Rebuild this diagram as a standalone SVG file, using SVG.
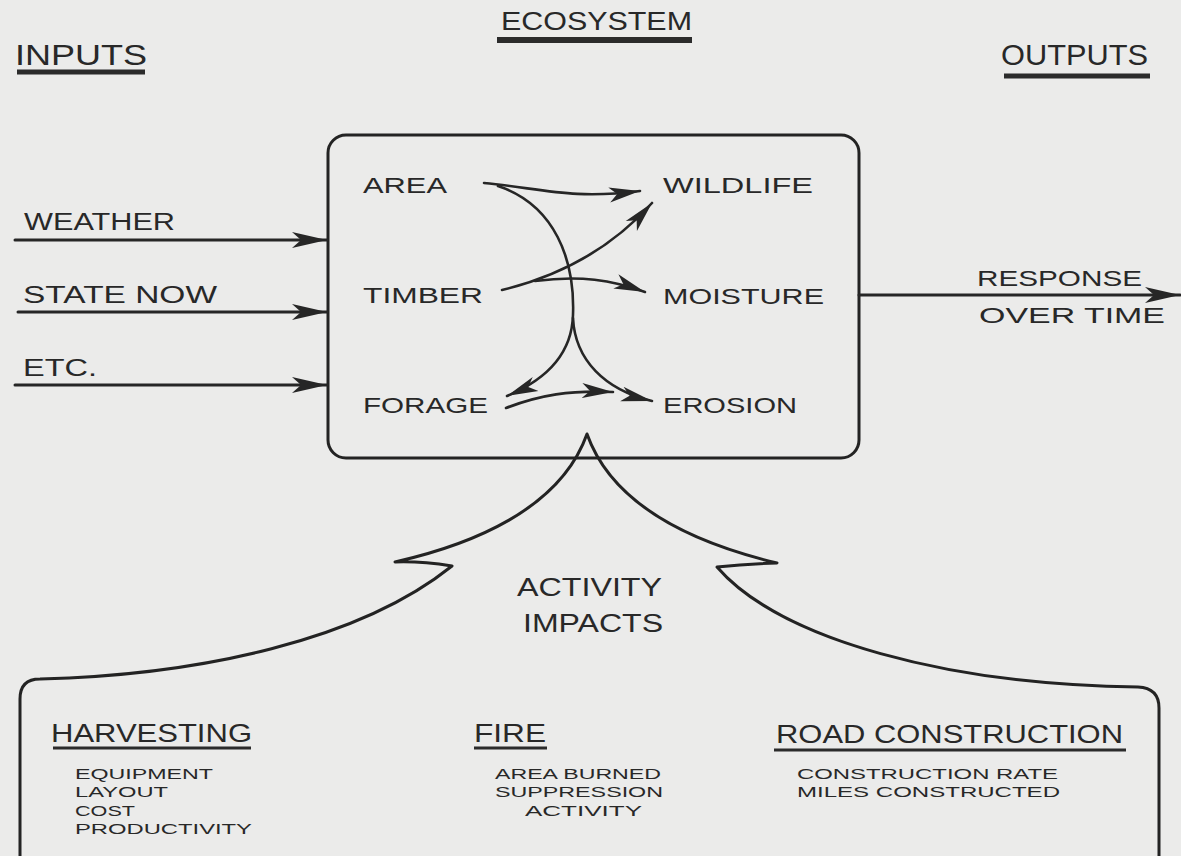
<svg xmlns="http://www.w3.org/2000/svg" width="1181" height="856" viewBox="0 0 1181 856">
  <style>
    .t { font-family: "Liberation Sans", Arial, sans-serif; fill: #282828; }
    .lbl { font-size: 23px; }
    .inner { font-size: 22px; }
    .ttl { font-size: 25px; }
    .big { font-size: 30px; }
    .sub { font-size: 15px; }
    .act { font-size: 26px; }
    .edge { fill: none; stroke: #262626; stroke-width: 3; stroke-linecap: round; }
    .thin { fill: none; stroke: #262626; stroke-width: 2.6; stroke-linecap: round; }
    .ul { stroke: #2b2b2b; stroke-linecap: butt; }
    .frame { fill: none; stroke: #232323; stroke-width: 3; stroke-linejoin: round; }
  </style>
  <defs>
    <!-- large dart head for the input / output lines -->
    <marker id="headL" markerUnits="userSpaceOnUse" viewBox="0 0 36 18" refX="35" refY="9" markerWidth="36" markerHeight="18" orient="auto">
      <path d="M0,1 L35,9 L0,17 L9,9 Z" fill="#262626"/>
    </marker>
    <!-- smaller dart head for the interactions inside the box -->
    <marker id="headS" markerUnits="userSpaceOnUse" viewBox="0 0 32 18" refX="31" refY="9" markerWidth="32" markerHeight="18" orient="auto">
      <path d="M0,1.5 L31,9 L0,16.5 L8,9 Z" fill="#262626"/>
    </marker>
  </defs>

  <rect x="0" y="0" width="1181" height="856" fill="#ebebea"/>

  <!-- column headings -->
  <g id="heading-inputs">
    <text class="t big" x="15" y="65" textLength="132" lengthAdjust="spacingAndGlyphs">INPUTS</text>
    <line class="ul" x1="17" y1="72" x2="145" y2="72" stroke-width="5"/>
  </g>
  <g id="heading-ecosystem">
    <text class="t ttl" x="501" y="30" textLength="191" lengthAdjust="spacingAndGlyphs">ECOSYSTEM</text>
    <line class="ul" x1="497" y1="40" x2="692" y2="40" stroke-width="6"/>
  </g>
  <g id="heading-outputs">
    <text class="t big" x="1001" y="65" textLength="147" lengthAdjust="spacingAndGlyphs">OUTPUTS</text>
    <line class="ul" x1="1004" y1="76" x2="1150" y2="76" stroke-width="5"/>
  </g>

  <!-- ecosystem box -->
  <g id="ecosystem">
    <rect class="frame" x="328" y="135" width="531" height="323" rx="18" ry="18"/>
  </g>

  <g id="area"><text class="t inner" x="363" y="193" textLength="84" lengthAdjust="spacingAndGlyphs">AREA</text></g>
  <g id="timber"><text class="t inner" x="363" y="303" textLength="120" lengthAdjust="spacingAndGlyphs">TIMBER</text></g>
  <g id="forage"><text class="t inner" x="363" y="413" textLength="125" lengthAdjust="spacingAndGlyphs">FORAGE</text></g>
  <g id="wildlife"><text class="t inner" x="663" y="193" textLength="150" lengthAdjust="spacingAndGlyphs">WILDLIFE</text></g>
  <g id="moisture"><text class="t inner" x="663" y="304" textLength="161" lengthAdjust="spacingAndGlyphs">MOISTURE</text></g>
  <g id="erosion"><text class="t inner" x="663" y="413" textLength="134" lengthAdjust="spacingAndGlyphs">EROSION</text></g>

  <!-- input labels -->
  <g id="weather"><text class="t lbl" x="24" y="230" textLength="151" lengthAdjust="spacingAndGlyphs">WEATHER</text></g>
  <g id="state-now"><text class="t lbl" x="23" y="303" textLength="194" lengthAdjust="spacingAndGlyphs">STATE NOW</text></g>
  <g id="etc"><text class="t lbl" x="23" y="376" textLength="74" lengthAdjust="spacingAndGlyphs">ETC.</text></g>

  <!-- output label -->
  <g id="response">
    <text class="t inner" x="977" y="286" textLength="165" lengthAdjust="spacingAndGlyphs">RESPONSE</text>
    <text class="t inner" x="979" y="323" textLength="186" lengthAdjust="spacingAndGlyphs">OVER TIME</text>
  </g>

  <!-- activity impacts outline: twin arrow into the box, widening into the activity panel -->
  <g id="activity-impacts">
    <path class="frame" d="M20,856 L20,699 Q20,679 40,679 C200,675 360,640 452,566 Q420,561 395,562 C470,545 560,510 587,434 C614,510 702,545 777,563 Q745,564 717,567 C780,640 950,685 1138,687 Q1159,688 1159,708 L1159,856"/>
    <text class="t act" x="517" y="596" textLength="145" lengthAdjust="spacingAndGlyphs">ACTIVITY</text>
    <text class="t act" x="523" y="632" textLength="140" lengthAdjust="spacingAndGlyphs">IMPACTS</text>
  </g>

  <g id="harvesting">
    <text class="t act" x="51" y="742" textLength="201" lengthAdjust="spacingAndGlyphs">HARVESTING</text>
    <line class="ul" x1="53" y1="748" x2="251" y2="748" stroke-width="3"/>
    <text class="t sub" x="75" y="779" textLength="138" lengthAdjust="spacingAndGlyphs">EQUIPMENT</text>
    <text class="t sub" x="75" y="797" textLength="93" lengthAdjust="spacingAndGlyphs">LAYOUT</text>
    <text class="t sub" x="75" y="816" textLength="60" lengthAdjust="spacingAndGlyphs">COST</text>
    <text class="t sub" x="75" y="834" textLength="177" lengthAdjust="spacingAndGlyphs">PRODUCTIVITY</text>
  </g>

  <g id="fire">
    <text class="t act" x="474" y="742" textLength="72" lengthAdjust="spacingAndGlyphs">FIRE</text>
    <line class="ul" x1="474" y1="748" x2="547" y2="748" stroke-width="3"/>
    <text class="t sub" x="495" y="779" textLength="166" lengthAdjust="spacingAndGlyphs">AREA BURNED</text>
    <text class="t sub" x="495" y="797" textLength="168" lengthAdjust="spacingAndGlyphs">SUPPRESSION</text>
    <text class="t sub" x="525" y="816" textLength="117" lengthAdjust="spacingAndGlyphs">ACTIVITY</text>
  </g>

  <g id="road-construction">
    <text class="t act" x="776" y="743" textLength="347" lengthAdjust="spacingAndGlyphs">ROAD CONSTRUCTION</text>
    <line class="ul" x1="774" y1="750" x2="1126" y2="750" stroke-width="3"/>
    <text class="t sub" x="797" y="779" textLength="261" lengthAdjust="spacingAndGlyphs">CONSTRUCTION RATE</text>
    <text class="t sub" x="797" y="797" textLength="263" lengthAdjust="spacingAndGlyphs">MILES CONSTRUCTED</text>
  </g>

  <!-- connectors -->
  <g id="connectors">
    <line class="edge" x1="15" y1="240" x2="327" y2="240" marker-end="url(#headL)"/>
    <line class="edge" x1="18" y1="312" x2="327" y2="312" marker-end="url(#headL)"/>
    <line class="edge" x1="15" y1="385" x2="327" y2="385" marker-end="url(#headL)"/>
    <line class="edge" x1="859" y1="295" x2="1180" y2="295" marker-end="url(#headL)"/>

    <path class="thin" d="M484,183 C540,188 570,200 640,191" marker-end="url(#headS)"/>
    <path class="thin" d="M498,186 C555,205 575,260 573,315 C572,350 550,378 507,396" marker-end="url(#headS)"/>
    <path class="thin" d="M573,318 C575,360 605,390 652,401" marker-end="url(#headS)"/>
    <path class="thin" d="M502,290 C560,276 610,250 652,203" marker-end="url(#headS)"/>
    <path class="thin" d="M535,281 C580,275 612,280 645,292" marker-end="url(#headS)"/>
    <path class="thin" d="M506,408 C540,395 570,390 613,392" marker-end="url(#headS)"/>
  </g>
</svg>
